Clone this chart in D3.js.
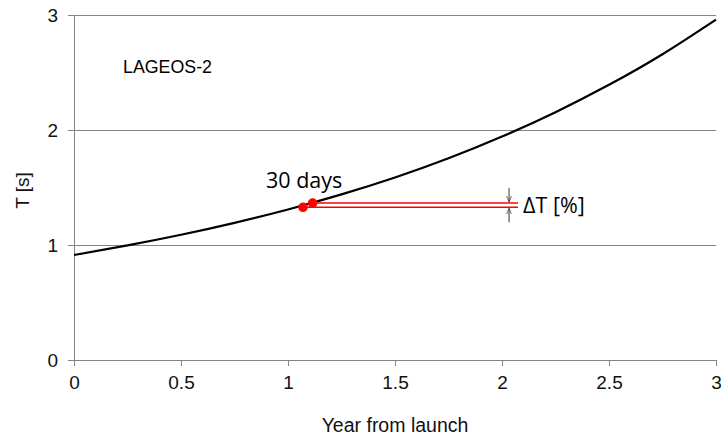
<!DOCTYPE html>
<html>
<head>
<meta charset="utf-8">
<script src="https://cdn.jsdelivr.net/npm/d3@7"></script>
<style>
  html, body { margin: 0; padding: 0; background: #fff; }
  svg { display: block; }
</style>
</head>
<body>
<svg id="chart" width="721" height="436"></svg>
<script>
// Spin period of LAGEOS-2 versus time since launch
const years   = [0, 0.25, 0.5, 0.75, 1.0, 1.25, 1.5, 1.75, 2.0, 2.25, 2.5, 2.75, 3.0];
const period  = [0.913, 0.997, 1.089, 1.193, 1.309, 1.440, 1.587, 1.754, 1.943, 2.155, 2.393, 2.659, 2.960];

// 30-day interval markers and the ΔT reference lines
const markYears  = [1.07, 1.115];
const markPeriod = [1.328, 1.365];
const refEndYear = 2.075;
const arrowYear  = 2.033;

const xTicks = [0, 0.5, 1, 1.5, 2, 2.5, 3];
const yTicks = [0, 1, 2, 3];

const satelliteName = "LAGEOS-2";
const xTitle = "Year from launch";
const yTitle = "T [s]";

const sans = "'Liberation Sans', Arial, sans-serif";
const humanist = "'Open Sans', sans-serif";

const svg = d3.select("#chart");
const margin = { left: 74, right: 5, top: 15, bottom: 76 };
const W = 721, H = 436;

const x = d3.scaleLinear().domain([0, 3]).range([margin.left, W - margin.right]);
const y = d3.scaleLinear().domain([0, 3]).range([H - margin.bottom, margin.top]);

const gridColor = "#858585";

// horizontal grid lines
svg.append("g")
  .selectAll("line")
  .data(yTicks.filter(d => d > 0))
  .join("line")
  .attr("x1", x(0)).attr("x2", x(3))
  .attr("y1", d => y(d)).attr("y2", d => y(d))
  .attr("stroke", gridColor).attr("stroke-width", 1)
  .attr("shape-rendering", "crispEdges");

// x axis
const xAxis = svg.append("g")
  .attr("transform", `translate(0,${y(0)})`)
  .call(d3.axisBottom(x).tickValues(xTicks).tickFormat(d3.format("")).tickSize(6).tickSizeOuter(0).tickPadding(10));
xAxis.select(".domain").attr("stroke", gridColor).attr("shape-rendering", "crispEdges");
xAxis.selectAll(".tick line").attr("stroke", gridColor).attr("shape-rendering", "crispEdges");
xAxis.selectAll(".tick text").style("font-size", "19px").style("font-family", sans).attr("fill", "#111");

// y axis
const yAxis = svg.append("g")
  .attr("transform", `translate(${x(0)},0)`)
  .call(d3.axisLeft(y).tickValues(yTicks).tickFormat(d3.format("d")).tickSize(6).tickSizeOuter(0).tickPadding(10));
yAxis.select(".domain").attr("stroke", gridColor).attr("shape-rendering", "crispEdges");
yAxis.selectAll(".tick line").attr("stroke", gridColor).attr("shape-rendering", "crispEdges");
yAxis.selectAll(".tick text").style("font-size", "19px").style("font-family", sans).attr("fill", "#111");

// axis titles
svg.append("text")
  .attr("x", (x(0) + x(3)) / 2).attr("y", 432)
  .attr("text-anchor", "middle")
  .style("font-family", sans).style("font-size", "19.5px")
  .attr("fill", "#111")
  .text(xTitle);

svg.append("text")
  .attr("transform", `translate(29,${(y(0) + y(3)) / 2 + 3}) rotate(-90)`)
  .attr("text-anchor", "middle")
  .style("font-family", sans).style("font-size", "19px")
  .attr("fill", "#111")
  .text(yTitle);

// satellite label
svg.append("text")
  .attr("x", 123).attr("y", 73)
  .style("font-family", sans).style("font-size", "17.8px")
  .attr("fill", "#000")
  .text(satelliteName);

// period curve
const pts = years.map((t, i) => [t, period[i]]);
const line = d3.line().x(d => x(d[0])).y(d => y(d[1])).curve(d3.curveNatural);
svg.append("path")
  .datum(pts)
  .attr("d", line)
  .attr("fill", "none")
  .attr("stroke", "#000")
  .attr("stroke-width", 2.2);

// ΔT reference lines
svg.append("g")
  .selectAll("line")
  .data(markYears.map((t, i) => [t, markPeriod[i]]))
  .join("line")
  .attr("x1", d => x(d[0])).attr("x2", x(refEndYear))
  .attr("y1", d => y(d[1])).attr("y2", d => y(d[1]))
  .attr("stroke", "#ff0000").attr("stroke-width", 1.6);

// 30-day markers
svg.append("g")
  .selectAll("circle")
  .data(markYears.map((t, i) => [t, markPeriod[i]]))
  .join("circle")
  .attr("cx", d => x(d[0])).attr("cy", d => y(d[1]))
  .attr("r", 4.8)
  .attr("fill", "#ff0000");

svg.append("text")
  .attr("x", 266).attr("y", 188)
  .style("font-family", humanist).style("font-size", "21.5px")
  .attr("fill", "#000")
  .text("30 days");

// ΔT dimension arrows
const defs = svg.append("defs");
defs.append("marker")
  .attr("id", "arrowHead")
  .attr("viewBox", "0 0 10 10")
  .attr("refX", 10).attr("refY", 5)
  .attr("markerWidth", 6).attr("markerHeight", 6)
  .attr("markerUnits", "userSpaceOnUse")
  .attr("orient", "auto")
  .append("path")
  .attr("d", "M0,1 L10,5 L0,9")
  .attr("fill", "none")
  .attr("stroke", "#333")
  .attr("stroke-width", 1.2);

const ax = x(arrowYear);
const yTop = y(Math.max(...markPeriod));
const yBot = y(Math.min(...markPeriod));
svg.append("line")
  .attr("x1", ax).attr("x2", ax)
  .attr("y1", yTop - 15).attr("y2", yTop - 1)
  .attr("stroke", "#333").attr("stroke-width", 1)
  .attr("marker-end", "url(#arrowHead)");
svg.append("line")
  .attr("x1", ax).attr("x2", ax)
  .attr("y1", yBot + 15).attr("y2", yBot + 1)
  .attr("stroke", "#333").attr("stroke-width", 1)
  .attr("marker-end", "url(#arrowHead)");

svg.append("text")
  .attr("x", x(refEndYear) + 5).attr("y", 213)
  .style("font-family", humanist).style("font-size", "21.5px")
  .attr("fill", "#000")
  .text("ΔT [%]");
</script>
</body>
</html>
